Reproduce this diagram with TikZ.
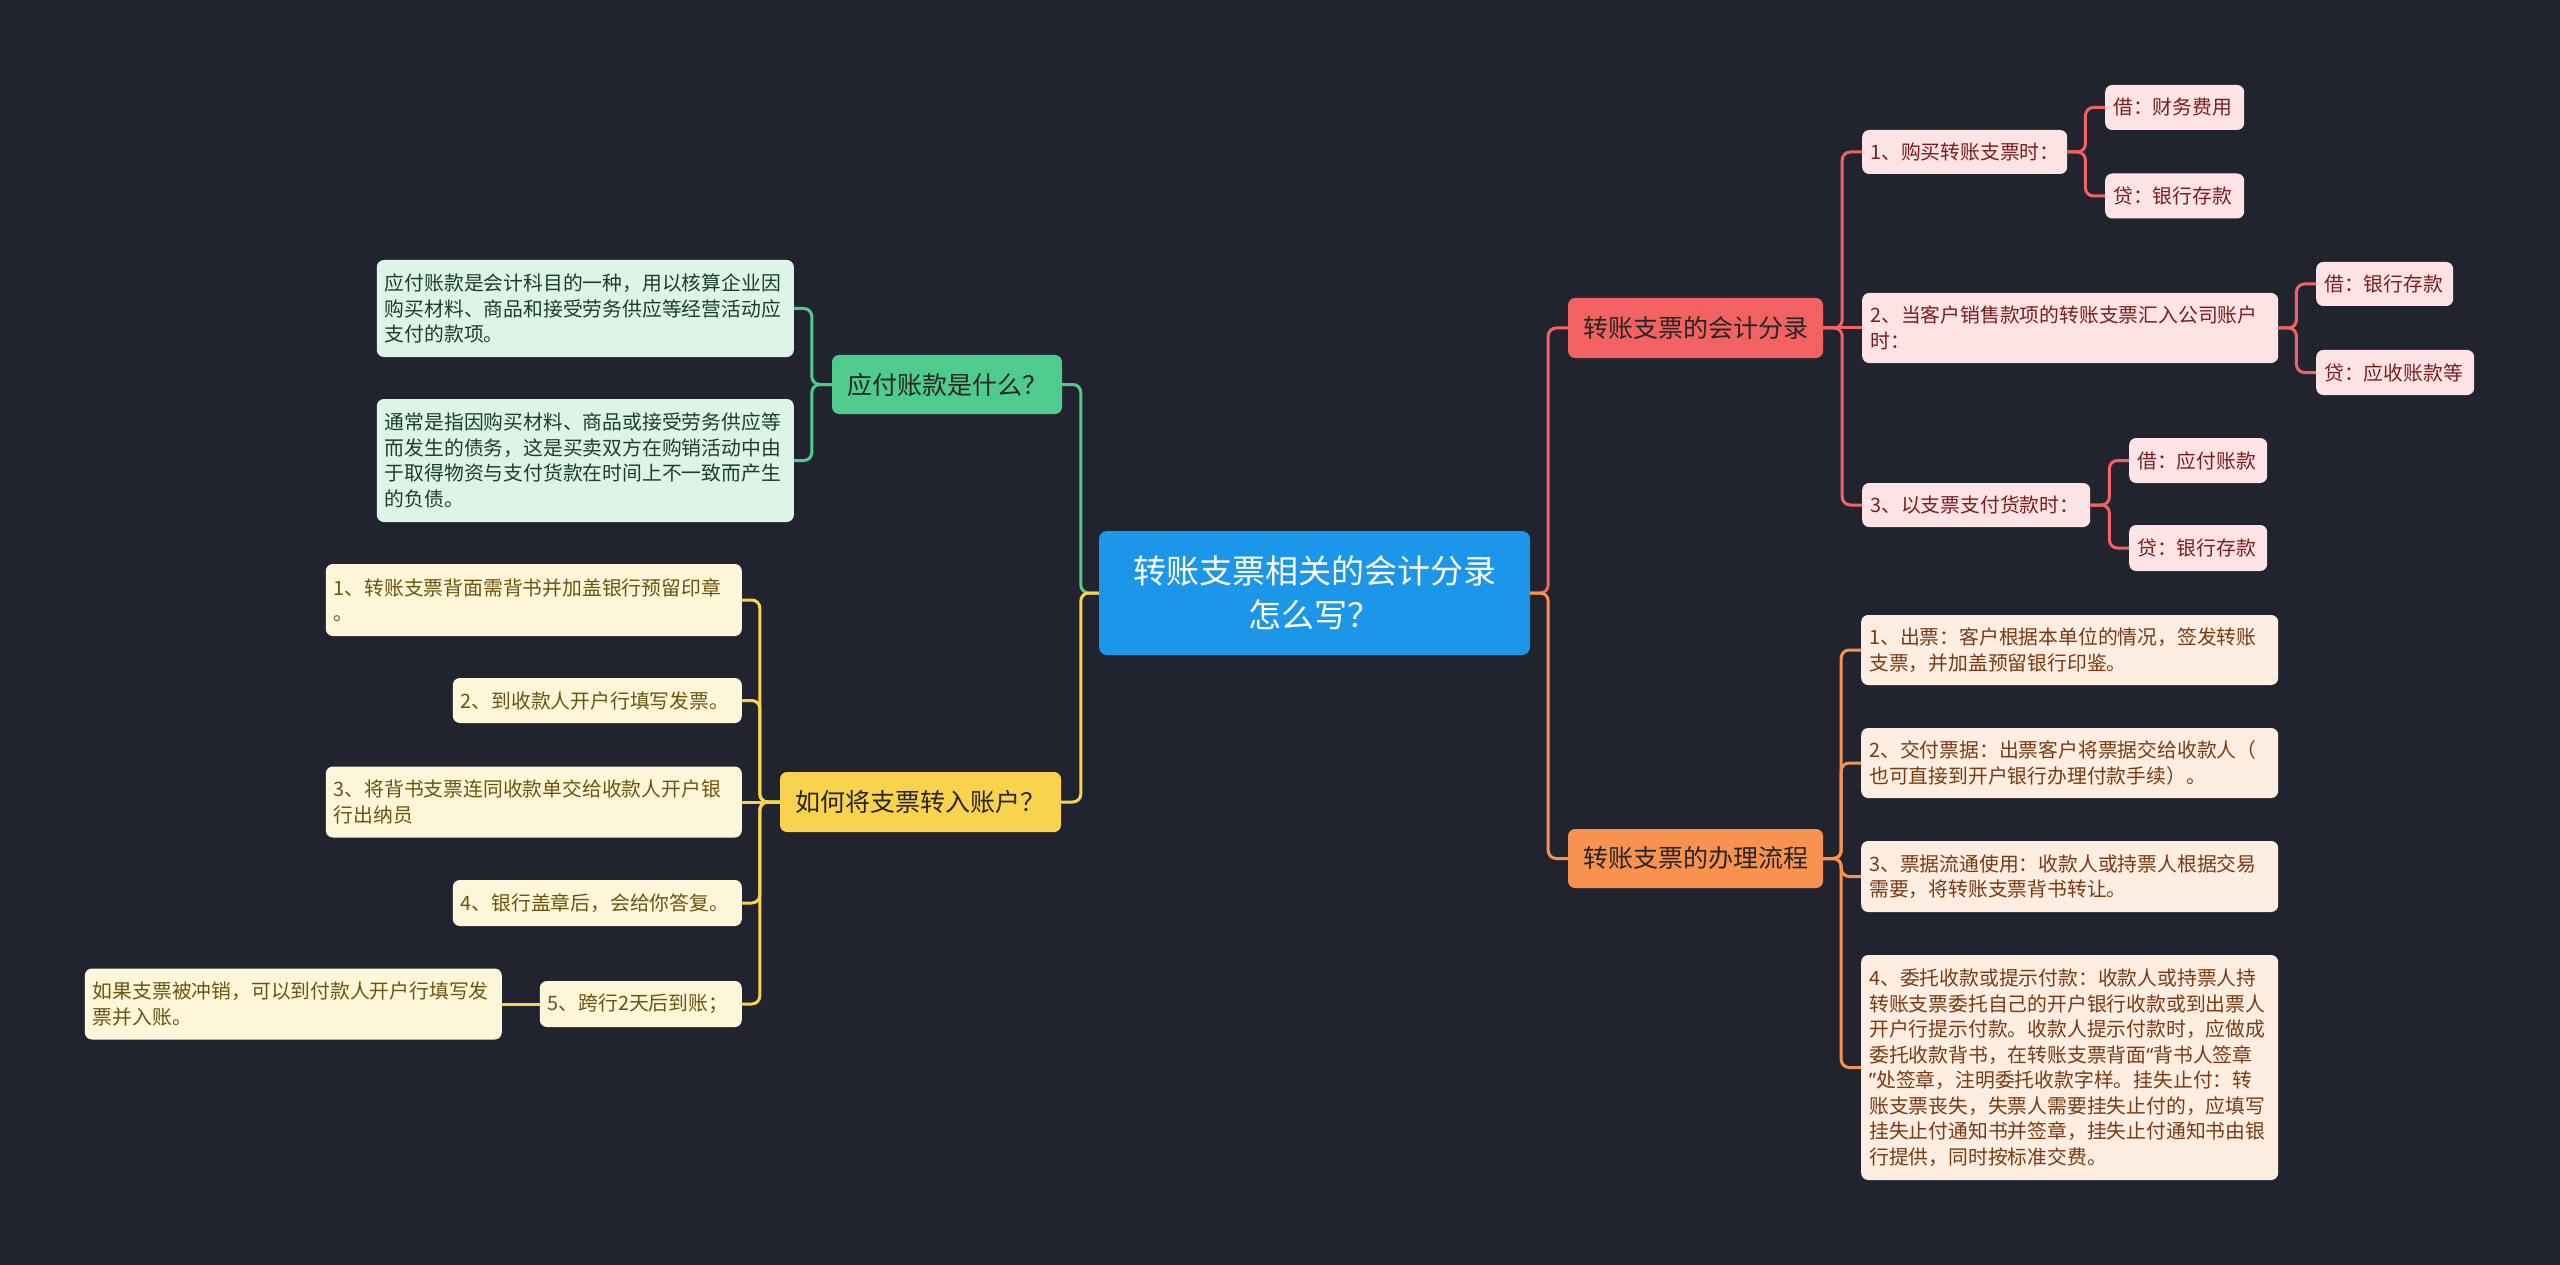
\documentclass[tikz,border=0pt]{standalone}
\usepackage{fontspec}
\setmainfont{Noto Sans CJK SC}
\newfontfamily\quotefont{Noto Sans}

\definecolor{bgcol}{HTML}{21232F}
\definecolor{rootcol}{HTML}{1B96E8}
\definecolor{redcol}{HTML}{F36262}
\definecolor{redsub}{HTML}{FDE3E3}
\definecolor{redtxt}{HTML}{7A1E1E}
\definecolor{orgcol}{HTML}{F9924F}
\definecolor{orgsub}{HTML}{FEEDE1}
\definecolor{orgtxt}{HTML}{7A3A12}
\definecolor{grncol}{HTML}{4ECB8D}
\definecolor{grnsub}{HTML}{DDF5E9}
\definecolor{grntxt}{HTML}{1E3C2B}
\definecolor{ylwcol}{HTML}{FAD34E}
\definecolor{ylwsub}{HTML}{FEF6D8}
\definecolor{ylwtxt}{HTML}{6B5410}

\tikzset{
  rootbox/.style={fill=rootcol,text=white,rounded corners=8pt,align=center,inner sep=0pt,
    font=\fontsize{33}{44}\selectfont,minimum width=431pt,minimum height=124pt},
  topic/.style={rounded corners=7pt,inner sep=0pt,text=black!85,
    font=\fontsize{25}{30}\selectfont},
  leaf/.style={rounded corners=7pt,align=left,inner xsep=8pt,inner ysep=0pt,
    font=\fontsize{19.8}{25.5}\selectfont},
  rleaf/.style={leaf,fill=redsub,text=redtxt,anchor=west},
  oleaf/.style={leaf,fill=orgsub,text=orgtxt,anchor=west},
  gleaf/.style={leaf,fill=grnsub,text=grntxt,anchor=east},
  yleaf/.style={leaf,fill=ylwsub,text=ylwtxt,anchor=east},
  link/.style={line width=3pt,rounded corners=8pt},
}

\begin{document}
\begin{tikzpicture}[x=1pt,y=-1pt]
\fill[bgcol] (0,0) rectangle (2560,1265);
\useasboundingbox (0,0) rectangle (2560,1265);

\node[rootbox] (root) at (1314.5,593) {转账支票相关的会计分录\\怎么写？};

\node[topic,fill=redcol,minimum width=255pt,minimum height=60pt] (entry) at (1695.5,328) {转账支票的会计分录};
\node[topic,fill=orgcol,minimum width=255pt,minimum height=59pt] (flow) at (1695.5,858.5) {转账支票的办理流程};
\node[topic,fill=grncol,minimum width=230pt,minimum height=59pt] (payable) at (947,384.5) {应付账款是什么？};
\node[topic,fill=ylwcol,minimum width=281pt,minimum height=60pt] (deposit) at (920.5,802) {如何将支票转入账户？};

\node[rleaf,text width=189pt,minimum height=44pt] (buy) at (1862,152) {1、购买转账支票时：};
\node[rleaf,text width=123pt,minimum height=45pt] (buyDr) at (2105,107.5) {借：财务费用};
\node[rleaf,text width=123pt,minimum height=45pt] (buyCr) at (2105,196) {贷：银行存款};
\node[rleaf,text width=400pt,minimum height=70pt] (sale) at (1862,328) {2、当客户销售款项的转账支票汇入公司账户\\时：};
\node[rleaf,text width=121pt,minimum height=44pt] (saleDr) at (2316,284) {借：银行存款};
\node[rleaf,text width=142pt,minimum height=45pt] (saleCr) at (2316,372.5) {贷：应收账款等};
\node[rleaf,text width=212pt,minimum height=44pt] (pay) at (1862,505) {3、以支票支付货款时：};
\node[rleaf,text width=122pt,minimum height=45pt] (payDr) at (2129,460.5) {借：应付账款};
\node[rleaf,text width=122pt,minimum height=46pt] (payCr) at (2129,548) {贷：银行存款};

\node[oleaf,text width=401pt,minimum height=70pt] (issue) at (1861,650) {1、出票：客户根据本单位的情况，签发转账\\支票，并加盖预留银行印鉴。};
\node[oleaf,text width=401pt,minimum height=70pt] (deliver) at (1861,763) {2、交付票据：出票客户将票据交给收款人（\\也可直接到开户银行办理付款手续）。};
\node[oleaf,text width=401pt,minimum height=71pt] (circulate) at (1861,876.5) {3、票据流通使用：收款人或持票人根据交易\\需要，将转账支票背书转让。};
\node[oleaf,text width=401pt,minimum height=225pt] (collect) at (1861,1067.5) {4、委托收款或提示付款：收款人或持票人持\\转账支票委托自己的开户银行收款或到出票人\\开户行提示付款。收款人提示付款时，应做成\\委托收款背书，在转账支票背面{\quotefont “}背书人签章\\{\quotefont ”}处签章，注明委托收款字样。挂失止付：转\\账支票丧失，失票人需要挂失止付的，应填写\\挂失止付通知书并签章，挂失止付通知书由银\\行提供，同时按标准交费。};

\node[gleaf,text width=401pt,minimum height=97pt] (define) at (794,308.5) {应付账款是会计科目的一种，用以核算企业因\\购买材料、商品和接受劳务供应等经营活动应\\支付的款项。};
\node[gleaf,text width=401pt,minimum height=123pt] (debt) at (794,460.5) {通常是指因购买材料、商品或接受劳务供应等\\而发生的债务，这是买卖双方在购销活动中由\\于取得物资与支付货款在时间上不一致而产生\\的负债。};

\node[yleaf,text width=400pt,minimum height=72pt] (stepA) at (742,600) {1、转账支票背面需背书并加盖银行预留印章\\。};
\node[yleaf,text width=273pt,minimum height=45pt] (stepB) at (742,700.5) {2、到收款人开户行填写发票。};
\node[yleaf,text width=400pt,minimum height=71pt] (stepC) at (742,802) {3、将背书支票连同收款单交给收款人开户银\\行出纳员};
\node[yleaf,text width=273pt,minimum height=46pt] (stepD) at (742,903) {4、银行盖章后，会给你答复。};
\node[yleaf,text width=186pt,minimum height=46pt] (stepE) at (742,1004) {5、跨行2天后到账；};
\node[yleaf,text width=401pt,minimum height=71pt] (stepNote) at (502,1004) {如果支票被冲销，可以到付款人开户行填写发\\票并入账。};

\draw[link,redcol] (root.east) -- ++(18,0) |- (entry.west);
\draw[link,orgcol] (root.east) -- ++(18,0) |- (flow.west);
\draw[link,grncol] (root.west) -- ++(-18,0) |- (payable.east);
\draw[link,ylwcol] (root.west) -- ++(-18,0) |- (deposit.east);

\draw[link,redcol] (entry.east) -- ++(19,0) |- (buy.west);
\draw[link,redcol] (entry.east) -- (sale.west);
\draw[link,redcol] (entry.east) -- ++(19,0) |- (pay.west);
\draw[link,redcol] (buy.east) -- ++(18,0) |- (buyDr.west);
\draw[link,redcol] (buy.east) -- ++(18,0) |- (buyCr.west);
\draw[link,redcol] (sale.east) -- ++(18,0) |- (saleDr.west);
\draw[link,redcol] (sale.east) -- ++(18,0) |- (saleCr.west);
\draw[link,redcol] (pay.east) -- ++(19,0) |- (payDr.west);
\draw[link,redcol] (pay.east) -- ++(19,0) |- (payCr.west);

\draw[link,orgcol] (flow.east) -- ++(18,0) |- (issue.west);
\draw[link,orgcol] (flow.east) -- ++(18,0) |- (deliver.west);
\draw[link,orgcol] (flow.east) -- ++(18,0) |- (circulate.west);
\draw[link,orgcol] (flow.east) -- ++(18,0) |- (collect.west);

\draw[link,grncol] (payable.west) -- ++(-20,0) |- (define.east);
\draw[link,grncol] (payable.west) -- ++(-20,0) |- (debt.east);

\draw[link,ylwcol] (deposit.west) -- ++(-20,0) |- (stepA.east);
\draw[link,ylwcol] (deposit.west) -- ++(-20,0) |- (stepB.east);
\draw[link,ylwcol] (deposit.west) -- (stepC.east);
\draw[link,ylwcol] (deposit.west) -- ++(-20,0) |- (stepD.east);
\draw[link,ylwcol] (deposit.west) -- ++(-20,0) |- (stepE.east);
\draw[link,ylwcol] (stepE.west) -- (stepNote.east);
\end{tikzpicture}
\end{document}
